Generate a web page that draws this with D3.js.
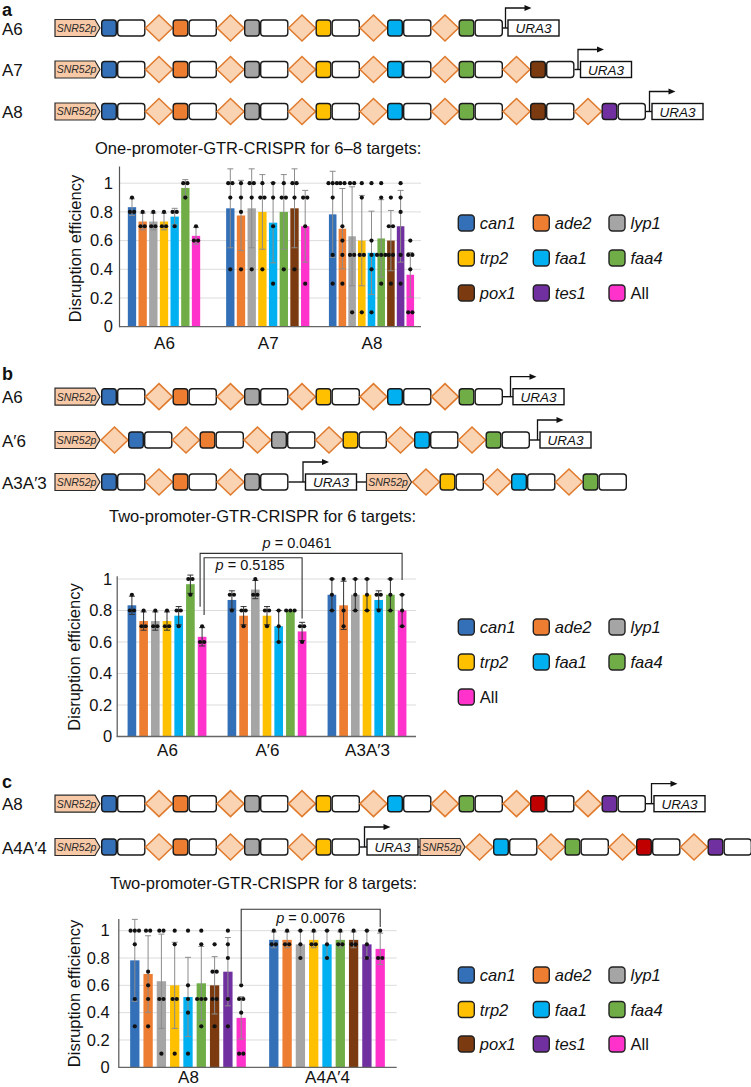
<!DOCTYPE html>
<html>
<head>
<meta charset="utf-8">
<script src="https://cdn.jsdelivr.net/npm/d3@7/dist/d3.min.js"></script>
<style>
html,body{margin:0;padding:0;background:#fff;}
svg{display:block;}
</style>
</head>
<body>
<svg id="fig" width="751" height="1087" xmlns="http://www.w3.org/2000/svg"></svg>
<script>
// ================= DATA =================
const genes = ["can1","ade2","lyp1","trp2","faa1","faa4","pox1","tes1","All"];
const geneColors = ["#3470b8","#ed7d31","#a5a5a5","#ffc000","#00b0f0","#70ad47","#7b3a10","#7030a0","#ff33cc"];
const tickValues = [0, 0.2, 0.4, 0.6, 0.8, 1];
const tickLabels = ["0","0.2","0.4","0.6","0.8","1"];

// construct designs (P = SNR52p promoter, D = tRNA/GTR diamond, U = URA3 marker, gene = spacer + gRNA scaffold)
const constructA6    = ["P","can1","D","ade2","D","lyp1","D","trp2","D","faa1","D","faa4","U"];
const constructA7    = ["P","can1","D","ade2","D","lyp1","D","trp2","D","faa1","D","faa4","D","pox1","U"];
const constructA8    = ["P","can1","D","ade2","D","lyp1","D","trp2","D","faa1","D","faa4","D","pox1","D","tes1","U"];
const constructA6p   = ["P","D","can1","D","ade2","D","lyp1","D","trp2","D","faa1","D","faa4","U"];
const constructA3A3p = ["P","can1","D","ade2","D","lyp1","U","P","D","trp2","D","faa1","D","faa4"];
const constructA4A4p = ["P","can1","D","ade2","D","lyp1","D","trp2","U","P","D","faa1","D","faa4","D","pox1","D","tes1"];

// ---- panel a: one-promoter, 6–8 targets ----
const aTitle = "One-promoter-GTR-CRISPR for 6–8 targets:";
const aGroups = ["A6","A7","A8"];
const aSeries = [
  ["can1","ade2","lyp1","trp2","faa1","faa4","All"],
  ["can1","ade2","lyp1","trp2","faa1","faa4","pox1","All"],
  ["can1","ade2","lyp1","trp2","faa1","faa4","pox1","tes1","All"]
];
const aMeans = [
  [0.833,0.733,0.733,0.733,0.767,0.967,0.633],
  [0.825,0.775,0.825,0.800,0.725,0.800,0.825,0.700],
  [0.783,0.683,0.630,0.600,0.515,0.615,0.600,0.700,0.362]
];
const aSD = [
  [0.058,0.058,0.058,0.058,0.058,0.058,0.058],
  [0.275,0.245,0.275,0.260,0.280,0.260,0.275,0.250],
  [0.300,0.280,0.345,0.315,0.290,0.270,0.210,0.250,0.155]
];
const aDots = [
  [[0.9,0.8,0.8],[0.8,0.7,0.7],[0.8,0.7,0.7],[0.8,0.7,0.7],[0.8,0.8,0.7],[1,1,0.9],[0.7,0.6,0.6]],
  [[1,1,0.9,0.4],[1,0.9,0.8,0.4],[1,1,0.9,0.4],[1,0.9,0.9,0.4],[1,0.9,0.7,0.3],[1,0.9,0.9,0.4],[1,1,0.9,0.4],[0.9,0.9,0.7,0.3]],
  [[1,1,1,0.9,0.5,0.3],[1,1,0.7,0.6,0.5,0.3],[1,1,0.5,0.5,0.1],[1,0.9,0.5,0.5,0.1],[1,0.6,0.5,0.4,0.1],[1,0.9,0.5,0.5,0.5,0.3],[0.9,0.7,0.7,0.5,0.5,0.3],[1,0.9,0.8,0.5,0.3],[0.6,0.5,0.5,0.4,0.1,0.1]]
];

// ---- panel b: two-promoter, 6 targets ----
const bTitle = "Two-promoter-GTR-CRISPR for 6 targets:";
const bGroups = ["A6","A′6","A3A′3"];
const bSeriesList = ["can1","ade2","lyp1","trp2","faa1","faa4","All"];
const bMeans = [
  [0.833,0.733,0.733,0.733,0.767,0.967,0.633],
  [0.867,0.767,0.933,0.767,0.700,0.800,0.667],
  [0.900,0.833,0.900,0.900,0.867,0.900,0.800]
];
const bSD = [
  [0.058,0.058,0.058,0.058,0.058,0.058,0.058],
  [0.058,0.058,0.058,0.058,0.100,0.000,0.058],
  [0.100,0.153,0.100,0.100,0.058,0.100,0.100]
];
const bDots = [
  [[0.9,0.8,0.8],[0.8,0.7,0.7],[0.8,0.7,0.7],[0.8,0.7,0.7],[0.8,0.8,0.7],[1,1,0.9],[0.7,0.6,0.6]],
  [[0.9,0.9,0.8],[0.8,0.8,0.7],[1,0.9,0.9],[0.8,0.8,0.7],[0.8,0.7,0.6],[0.8,0.8,0.8],[0.7,0.7,0.6]],
  [[1,0.9,0.8],[1,0.8,0.7],[1,0.9,0.8],[1,0.9,0.8],[0.9,0.9,0.8],[1,0.9,0.8],[0.9,0.8,0.7]]
];
const bPValues = ["0.0461","0.5185"];

// ---- panel c: two-promoter, 8 targets ----
const cTitle = "Two-promoter-GTR-CRISPR for 8 targets:";
const cGroups = ["A8","A4A′4"];
const cSeriesList = ["can1","ade2","lyp1","trp2","faa1","faa4","pox1","tes1","All"];
const cMeans = [
  [0.783,0.683,0.630,0.600,0.515,0.615,0.600,0.700,0.362],
  [0.933,0.933,0.900,0.933,0.900,0.933,0.933,0.900,0.867]
];
const cSD = [
  [0.300,0.280,0.345,0.315,0.290,0.270,0.210,0.250,0.155],
  [0.058,0.058,0.100,0.058,0.100,0.058,0.058,0.100,0.115]
];
const cDots = [
  [[1,1,1,0.9,0.5,0.3],[1,1,0.7,0.6,0.5,0.3],[1,1,0.5,0.5,0.1],[1,0.9,0.5,0.5,0.1],[1,0.6,0.5,0.4,0.1],[1,0.9,0.5,0.5,0.5,0.3],[0.9,0.7,0.7,0.5,0.5,0.3],[1,0.9,0.8,0.5,0.3],[0.6,0.5,0.5,0.4,0.1,0.1]],
  [[1,0.9,0.9],[1,0.9,0.9],[1,0.9,0.8],[1,0.9,0.9],[1,0.9,0.8],[1,0.9,0.9],[1,0.9,0.9],[1,0.9,0.8],[1,0.8,0.8]]
];
const cPValues = ["0.0076"];

// ================= DRAWING =================
const FONT = '"Liberation Sans", Arial, Helvetica, sans-serif';
const svg = d3.select("#fig");
const colorOf = g => geneColors[genes.indexOf(g)];

// ---------- constructs ----------
const UNIT = {promoter:45, colored:16, white:28.5, diamond:27, ura:51};
function drawConstruct(row) {
  const g = svg.append("g");
  const cy = row.cy;
  g.append("text").attr("x", 2).attr("y", cy + 6.5).text(row.label)
    .attr("font-family", FONT).attr("font-size", 17).attr("fill", "#111");
  let x = 55;
  let prev = null;
  row.tokens.forEach(t => {
    if (t === "P") {
      if (prev === "U") {
        g.append("line").attr("x1", x).attr("x2", x + row.pGap).attr("y1", cy).attr("y2", cy)
          .attr("stroke", "#111").attr("stroke-width", 1.4);
        x += row.pGap;
      }
      const w = UNIT.promoter, h = 8.5;
      g.append("path")
        .attr("d", `M${x},${cy-h}H${x+w-5}L${x+w},${cy}L${x+w-5},${cy+h}H${x}Z`)
        .attr("fill", "#f8c9a6").attr("stroke", "#2a2a2a").attr("stroke-width", 1.2);
      g.append("text").attr("x", x + 21.5).attr("y", cy + 3.8).attr("text-anchor", "middle")
        .attr("font-family", FONT).attr("font-size", 10.5).attr("font-style", "italic")
        .attr("fill", "#2a2a2a").text("SNR52p");
      x += w + 1;
    } else if (t === "D") {
      const w = UNIT.diamond, hh = 13;
      g.append("path")
        .attr("d", `M${x},${cy}L${x+w/2},${cy-hh}L${x+w},${cy}L${x+w/2},${cy+hh}Z`)
        .attr("fill", "#fad3b3").attr("stroke", "#e07b2e").attr("stroke-width", 1.6);
      x += w;
    } else if (t === "U") {
      const gap = row.uGap;
      g.append("line").attr("x1", x).attr("x2", x + gap).attr("y1", cy).attr("y2", cy)
        .attr("stroke", "#111").attr("stroke-width", 1.4);
      const bx = x + gap;
      const ax = bx - 2.5;
      g.append("path").attr("d", `M${ax},${cy}V${cy-20}H${ax+20}`)
        .attr("fill", "none").attr("stroke", "#111").attr("stroke-width", 1.3);
      g.append("path").attr("d", `M${ax+19},${cy-23}L${ax+26},${cy-20}L${ax+19},${cy-17}Z`).attr("fill", "#111");
      g.append("rect").attr("x", bx).attr("y", cy - 8).attr("width", UNIT.ura).attr("height", 16)
        .attr("fill", "#fff").attr("stroke", "#111").attr("stroke-width", 1.4);
      g.append("text").attr("x", bx + UNIT.ura/2).attr("y", cy + 5).attr("text-anchor", "middle")
        .attr("font-family", FONT).attr("font-size", 13.5).attr("font-style", "italic")
        .attr("fill", "#111").text("URA3");
      x = bx + UNIT.ura;
    } else {
      const col = (row.override && row.override[t]) || colorOf(t);
      g.append("rect").attr("x", x + 0.7).attr("y", cy - 8).attr("width", UNIT.colored - 1.4).attr("height", 16)
        .attr("rx", 3).attr("fill", col).attr("stroke", "#1a1a1a").attr("stroke-width", 1.4);
      g.append("rect").attr("x", x + UNIT.colored + 0.7).attr("y", cy - 8).attr("width", UNIT.white - 1.4).attr("height", 16)
        .attr("rx", 3).attr("fill", "#fff").attr("stroke", "#1a1a1a").attr("stroke-width", 1.4);
      x += UNIT.colored + UNIT.white;
    }
    prev = t;
  });
}

function panelLetter(letter, y) {
  svg.append("text").attr("x", 2).attr("y", y).text(letter)
    .attr("font-family", FONT).attr("font-size", 18).attr("font-weight", "bold").attr("fill", "#111");
}

// ---------- bar charts ----------
function drawChart(cfg) {
  const g = svg.append("g");
  const yTopPx = cfg.y0 - (cfg.y0 - cfg.y1) * cfg.yMax;
  const y = d3.scaleLinear().domain([0, cfg.yMax]).range([cfg.y0, yTopPx]);
  const x0 = d3.scalePoint().domain(cfg.groups).range(cfg.centerRange);

  // title
  g.append("text").attr("x", cfg.title.x).attr("y", cfg.title.y).text(cfg.title.text)
    .attr("font-family", FONT).attr("font-size", 16.5).attr("fill", "#111");

  // gridlines
  g.selectAll("line.grid").data(tickValues.filter(v => v > 0)).join("line")
    .attr("class", "grid")
    .attr("x1", cfg.axisX).attr("x2", cfg.axisEnd)
    .attr("y1", d => y(d)).attr("y2", d => y(d))
    .attr("stroke", "#dcdcdc").attr("stroke-width", 1);

  // y axis
  const ya = d3.axisLeft(y).tickValues(tickValues).tickFormat((d, i) => tickLabels[i])
    .tickSize(0).tickSizeOuter(0).tickPadding(cfg.tickPad);
  const yg = g.append("g").attr("transform", `translate(${cfg.axisX},0)`).call(ya);
  yg.attr("font-family", FONT).attr("font-size", 16.5);
  yg.select(".domain").attr("stroke", "#555").attr("stroke-width", 1.2);
  yg.selectAll(".tick text").attr("fill", "#111");

  // y label
  g.append("text").attr("transform", `translate(${cfg.ylab.x},${cfg.ylab.y}) rotate(-90)`)
    .attr("text-anchor", "middle").attr("dominant-baseline", "central")
    .attr("font-family", FONT).attr("font-size", 16.5).attr("fill", "#111")
    .text("Disruption efficiency");

  // bars per group
  cfg.barCenter = {};
  cfg.groups.forEach((grp, gi) => {
    const ser = cfg.series[gi];
    const c = x0(grp);
    const W = ser.length * cfg.step[gi];
    const x1 = d3.scaleBand().domain(ser).range([c - W/2, c + W/2])
      .paddingInner(cfg.padIn).paddingOuter(cfg.padIn/2);
    const rows = ser.map((s, i) => ({s, m: cfg.means[gi][i], sd: cfg.sd[gi][i], dots: cfg.dots[gi][i]}));
    const bg = g.append("g");
    bg.selectAll("rect").data(rows).join("rect")
      .attr("x", d => x1(d.s)).attr("width", x1.bandwidth())
      .attr("y", d => y(d.m)).attr("height", d => y(0) - y(d.m))
      .attr("fill", d => colorOf(d.s));
    rows.forEach(d => {
      const cx = x1(d.s) + x1.bandwidth()/2;
      if (d.sd > 0) {
        const eg = bg.append("g").attr("stroke", cfg.errColor).attr("stroke-width", 1);
        eg.append("line").attr("x1", cx).attr("x2", cx).attr("y1", y(d.m - d.sd)).attr("y2", y(d.m + d.sd));
        eg.append("line").attr("x1", cx - 3).attr("x2", cx + 3).attr("y1", y(d.m + d.sd)).attr("y2", y(d.m + d.sd));
        eg.append("line").attr("x1", cx - 3).attr("x2", cx + 3).attr("y1", y(d.m - d.sd)).attr("y2", y(d.m - d.sd));
      }
      const counts = d3.rollup(d.dots, v => v.length, v => v);
      const seen = new Map();
      d.dots.forEach(v => {
        const n = counts.get(v);
        const k = seen.get(v) || 0;
        seen.set(v, k + 1);
        const off = (k - (n - 1)/2) * 4.2;
        bg.append("circle").attr("cx", cx + off).attr("cy", y(v)).attr("r", 2.1).attr("fill", "#111");
      });
    });
    cfg.barCenter[gi] = s => x1(s) + x1.bandwidth()/2;
  });

  // x axis baseline + labels
  g.append("line").attr("x1", cfg.axisX).attr("x2", cfg.axisEnd).attr("y1", cfg.y0).attr("y2", cfg.y0)
    .attr("stroke", "#666").attr("stroke-width", 1.3);
  const xa = d3.axisBottom(x0).tickSize(0).tickPadding(cfg.xPad);
  const xg = g.append("g").attr("transform", `translate(0,${cfg.y0})`).call(xa);
  xg.select(".domain").remove();
  xg.attr("font-family", FONT).attr("font-size", 17);
  xg.selectAll(".tick text").attr("fill", "#111");

  // significance brackets
  (cfg.brackets || []).forEach(b => {
    const xl = cfg.barCenter[b.left[0]](b.left[1]) + (b.dxl || 0);
    const xr = cfg.barCenter[b.right[0]](b.right[1]) + (b.dxr || 0);
    const yt = y(b.top);
    g.append("path")
      .attr("d", `M${xl},${y(b.leftEnd)}V${yt}H${xr}V${y(b.rightEnd)}`)
      .attr("fill", "none").attr("stroke", "#333").attr("stroke-width", 1.1);
    const t = g.append("text").attr("x", (xl + xr)/2 + (b.dxText || 0)).attr("y", y(b.textAt))
      .attr("text-anchor", "middle").attr("font-family", FONT).attr("font-size", 14.5).attr("fill", "#111");
    t.append("tspan").attr("font-style", "italic").text("p");
    t.append("tspan").text(" = " + b.label);
  });
}

function drawLegend(items, rowCenters) {
  const colX = [458.3, 533.3, 609];
  items.forEach((it, i) => {
    const r = Math.floor(i / 3), c = i % 3;
    const cy = rowCenters[r];
    svg.append("rect").attr("x", colX[c]).attr("y", cy - 8).attr("width", 16).attr("height", 16)
      .attr("rx", 3.5).attr("fill", colorOf(it)).attr("stroke", "#222").attr("stroke-width", 1.4);
    svg.append("text").attr("x", colX[c] + 21.5).attr("y", cy + 6)
      .attr("font-family", FONT).attr("font-size", 16.5)
      .attr("font-style", it === "All" ? "normal" : "italic").attr("fill", "#111").text(it);
  });
}

// ---------- panel a ----------
panelLetter("a", 16);
[
  {label:"A6", tokens:constructA6, cy:28,    uGap:5},
  {label:"A7", tokens:constructA7, cy:69.5,  uGap:6},
  {label:"A8", tokens:constructA8, cy:111.5, uGap:6}
].forEach(drawConstruct);

drawChart({
  groups:aGroups, series:aSeries, means:aMeans, sd:aSD, dots:aDots,
  y0:326.7, y1:183.2, yMax:1.12, axisX:119, axisEnd:421,
  centerRange:[164, 371.5], step:[10.67, 10.7, 9.7], padIn:0.22,
  errColor:"#8c8c8c", tickPad:6, xPad:10,
  ylab:{x:75, y:248.5}, title:{text:aTitle, x:95, y:154}
});
drawLegend(genes, [223, 258, 293]);

// ---------- panel b ----------
panelLetter("b", 380);
[
  {label:"A6",    tokens:constructA6,    cy:396.7, uGap:10},
  {label:"A′6",   tokens:constructA6p,   cy:440,   uGap:10},
  {label:"A3A′3", tokens:constructA3A3p, cy:482,   uGap:17, pGap:10}
].forEach(drawConstruct);

drawChart({
  groups:bGroups, series:[bSeriesList, bSeriesList, bSeriesList], means:bMeans, sd:bSD, dots:bDots,
  y0:736.5, y1:579, yMax:1.02, axisX:116.7, axisEnd:416,
  centerRange:[167, 367], step:[11.7, 11.7, 11.7], padIn:0.26,
  errColor:"#333", tickPad:4.5, xPad:7.4,
  ylab:{x:74, y:657}, title:{text:bTitle, x:109, y:521.5},
  brackets:[
    {left:[0,"All"], right:[2,"All"], dxl:-2, top:1.163, leftEnd:0.824, rightEnd:0.994, textAt:1.2, label:bPValues[0], dxText:-4},
    {left:[0,"All"], right:[1,"All"], dxl:2,  top:1.135, leftEnd:0.771, rightEnd:0.75,  textAt:1.057, label:bPValues[1], dxText:-3}
  ]
});
drawLegend(["can1","ade2","lyp1","trp2","faa1","faa4","All"], [627, 662, 697]);

// ---------- panel c ----------
panelLetter("c", 788);
[
  {label:"A8",    tokens:constructA8,    cy:803.7, uGap:8, override:{pox1:"#c00000"}},
  {label:"A4A′4", tokens:constructA4A4p, cy:847,   uGap:7, pGap:2, override:{pox1:"#c00000"}}
].forEach(drawConstruct);

drawChart({
  groups:cGroups, series:[cSeriesList, cSeriesList], means:cMeans, sd:cSD, dots:cDots,
  y0:1067.3, y1:930.7, yMax:1.09, axisX:118.3, axisEnd:396.7,
  centerRange:[188, 327], step:[13.3, 13.3], padIn:0.3,
  errColor:"#8c8c8c", tickPad:8.5, xPad:3.6,
  ylab:{x:73.5, y:993.5}, title:{text:cTitle, x:110, y:888.5},
  brackets:[
    {left:[0,"All"], right:[1,"All"], top:1.157, leftEnd:0.617, rightEnd:1.027, textAt:1.054, label:cPValues[0]}
  ]
});
drawLegend(genes, [975, 1009.5, 1044]);
</script>
</body>
</html>
